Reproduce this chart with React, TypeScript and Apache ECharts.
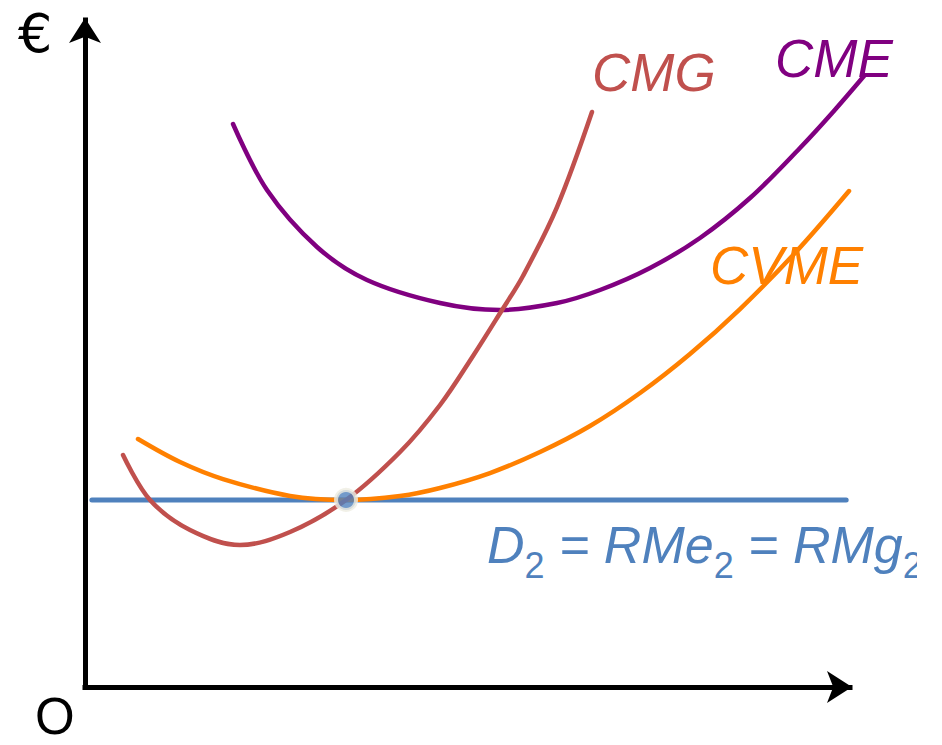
import React, { useEffect, useRef } from "react";
import * as echarts from "echarts";

// Marginal cost (CMG) — [quantity, €]
const cmgCurve: [number, number][] = [
  [4.97, 34.78], [8.5, 28.04], [13.73, 23.54], [20.26, 21.29], [26.8, 23.24],
  [34.12, 28.04], [41.18, 35.23], [46.41, 42.28], [50.72, 49.63], [54.51, 56.52],
  [57.25, 61.62], [61.7, 71.96], [66.27, 86.21],
];

// Average total cost (CME)
const cmeCurve: [number, number][] = [
  [19.35, 84.41], [23.79, 74.51], [30.33, 65.97], [36.86, 61.02], [46.41, 57.57],
  [54.25, 56.52], [61.7, 57.57], [67.32, 59.52], [73.86, 62.82], [80.39, 67.32],
  [86.93, 73.31], [93.46, 80.81], [97.78, 86.21], [101.83, 91.6],
];

// Average variable cost (CVME)
const cvmeCurve: [number, number][] = [
  [6.93, 37.18], [12.42, 33.73], [18.04, 31.18], [26.8, 28.64], [34.12, 28.04],
  [41.18, 28.64], [46.41, 29.84], [52.94, 32.08], [59.48, 35.23], [66.01, 39.13],
  [72.55, 44.08], [79.08, 49.93], [85.62, 56.67], [92.81, 65.07], [99.87, 74.36],
];

// Demand = average revenue = marginal revenue (horizontal price line)
const priceLevel = 28.04;
const demandLine: [number, number][] = [
  [0.9, priceLevel],
  [99.5, priceLevel],
];

// CMG meets the minimum of CVME on the price line
const shutdownPoint: [number, number][] = [[34.12, priceLevel]];

// Visible axes run 0..100; the curves share the same scale but may run past the arrow
const axisRange = { min: 0, max: 100 };
const curveRangeX = { min: 0, max: 104 };

const curveNames = { cmg: "CMG", cme: "CME", cvme: "CVME" };
const axisNames = { y: "€", origin: "O" };

const FONT = "'Liberation Sans', Arial, Helvetica, sans-serif";

const COLORS = {
  cmg: "#C0504D",
  cme: "#800080",
  cvme: "#FF8000",
  demand: "#4F81BD",
  halo: "#EEECE1",
  axis: "#000000",
};

const PLOT = { left: 85, top: 20, bottom: 58, width: 765 };

export default function App() {
  const ref = useRef<HTMLDivElement>(null);

  useEffect(() => {
    if (!ref.current) return;
    const chart = echarts.init(ref.current, undefined, { renderer: "svg" });

    const hiddenParts = {
      splitLine: { show: false },
      axisTick: { show: false },
      axisLabel: { show: false },
    };

    const visibleAxis = {
      type: "value" as const,
      gridIndex: 0,
      min: axisRange.min,
      max: axisRange.max,
      ...hiddenParts,
      axisLine: {
        show: true,
        symbol: ["none", "arrow"],
        symbolSize: [24, 25],
        symbolOffset: [0, 2],
        lineStyle: { color: COLORS.axis, width: 5, cap: "square" },
      },
    };

    const curveWidth = (PLOT.width * curveRangeX.max) / axisRange.max;

    const curve = (name: string, data: [number, number][], color: string, width = 4.5) => ({
      name,
      type: "line" as const,
      xAxisIndex: 1,
      yAxisIndex: 1,
      data,
      smooth: 0.35,
      showSymbol: false,
      silent: true,
      lineStyle: { color, width, cap: "round", join: "round" },
    });

    const labelStyle = (text: string, fill: string) => ({
      text,
      fill,
      fontFamily: FONT,
      fontSize: 53,
      fontStyle: "italic",
      align: "left",
      verticalAlign: "middle",
    });

    chart.setOption({
      animation: false,
      backgroundColor: "#ffffff",
      grid: [
        { left: PLOT.left, width: PLOT.width, top: PLOT.top, bottom: PLOT.bottom },
        { left: PLOT.left, width: curveWidth, top: PLOT.top, bottom: PLOT.bottom },
      ],
      xAxis: [
        visibleAxis,
        {
          type: "value",
          gridIndex: 1,
          min: curveRangeX.min,
          max: curveRangeX.max,
          show: false,
        },
      ],
      yAxis: [
        visibleAxis,
        {
          type: "value",
          gridIndex: 1,
          min: axisRange.min,
          max: axisRange.max,
          show: false,
        },
      ],
      series: [
        curve("D2", demandLine, COLORS.demand, 5),
        curve(curveNames.cvme, cvmeCurve, COLORS.cvme),
        curve(curveNames.cme, cmeCurve, COLORS.cme),
        curve(curveNames.cmg, cmgCurve, COLORS.cmg),
        {
          type: "scatter",
          xAxisIndex: 1,
          yAxisIndex: 1,
          data: shutdownPoint,
          symbol: "circle",
          symbolSize: 20,
          silent: true,
          itemStyle: {
            color: COLORS.demand,
            borderColor: COLORS.halo,
            borderWidth: 4,
          },
          z: 5,
        },
      ],
      graphic: [
        {
          type: "text",
          x: 18,
          y: 33,
          style: {
            text: axisNames.y,
            fill: "#000",
            fontFamily: "'DejaVu Sans', sans-serif",
            fontSize: 54,
            lineHeight: 48,
            align: "left",
            verticalAlign: "middle",
          },
        },
        {
          type: "text",
          x: 35,
          y: 716,
          style: {
            text: axisNames.origin,
            fill: "#000",
            fontFamily: FONT,
            fontSize: 51,
            lineHeight: 42,
            align: "left",
            verticalAlign: "middle",
          },
        },
        { type: "text", x: 592, y: 72, style: labelStyle(curveNames.cmg, COLORS.cmg) },
        { type: "text", x: 775, y: 58, style: labelStyle(curveNames.cme, COLORS.cme) },
        { type: "text", x: 710, y: 265, style: labelStyle(curveNames.cvme, COLORS.cvme) },
        {
          type: "text",
          x: 487,
          y: 545,
          style: {
            text: "{t|D}{s|2}{t| = RMe}{s|2}{t| = RMg}{s|2}",
            fill: COLORS.demand,
            fontFamily: FONT,
            fontSize: 52,
            fontStyle: "italic",
            align: "left",
            verticalAlign: "middle",
            rich: {
              t: {
                fill: COLORS.demand,
                fontFamily: FONT,
                fontSize: 52,
                fontStyle: "italic",
              },
              s: {
                fill: COLORS.demand,
                fontFamily: FONT,
                fontSize: 36,
                lineHeight: 36,
                padding: [40, 0, 0, 0],
              },
            },
          },
        },
        // the label runs off the right edge of the drawing area
        {
          type: "rect",
          shape: { x: 917, y: 538, width: 25, height: 52 },
          style: { fill: "#ffffff" },
          z: 100,
        },
      ],
    });

    return () => chart.dispose();
  }, []);

  return (
    <div
      ref={ref}
      style={{ position: "absolute", left: 0, top: 0, width: 942, height: 745 }}
    />
  );
}
